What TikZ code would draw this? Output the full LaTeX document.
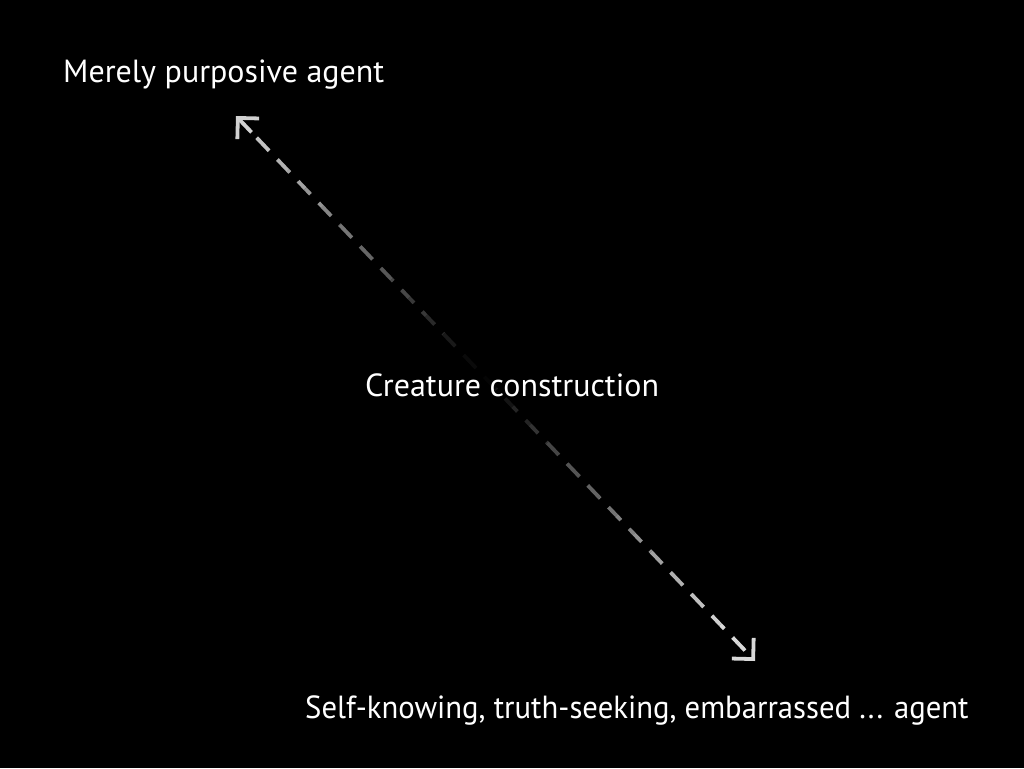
\documentclass[tikz,border=0pt]{standalone}
\usepackage{fontspec}
\setmainfont{PT Sans}
\usetikzlibrary{arrows.meta, calc}
\tikzset{
  every picture/.style={x=1pt, y=-1pt},
  label/.style={text=white, font=\fontsize{32}{38}\selectfont, inner sep=0pt, anchor=base west},
  conn/.style={line width=3.8pt, dash pattern=on 18pt off 12pt},
  barb/.tip={Straight Barb[length=15pt, width=30pt, line width=3.8pt]},
}
\begin{document}
\begin{tikzpicture}
  \fill[black] (0,0) rectangle (1024,768);
  \useasboundingbox (0,0) rectangle (1024,768);
  \coordinate (top) at (236,116);
  \coordinate (bot) at (755,661);
  % the connector, dark in its middle and light at its ends
  \pgfmathsetmacro{\seglen}{veclen(519,545)/30}
  \foreach \i in {0,...,29}{
    \pgfmathtruncatemacro{\shade}{round(85*min(1,abs((\i+0.5)/30-0.47)/0.47))}
    \pgfmathsetmacro{\ta}{\i/30}
    \pgfmathsetmacro{\tb}{(\i+1)/30}
    \ifnum\i=0 \def\tips{barb-}\else\ifnum\i=29 \def\tips{-barb}\else\def\tips{-}\fi\fi
    \draw[conn, white!\shade!black, dash phase=\i*\seglen, arrows/.expanded=\tips]
      ($(top)!\ta!(bot)$) -- ($(top)!\tb!(bot)$);
  }
  \node[label] (purpose) at (63,82) {Merely purposive agent};
  \node[label] (creature) at (365,396) {Creature construction};
  \node[label] (selfknow) at (305,718) {\scalebox{0.96}[1]{Self-knowing, truth-seeking, embarrassed ... agent}};
\end{tikzpicture}
\end{document}
